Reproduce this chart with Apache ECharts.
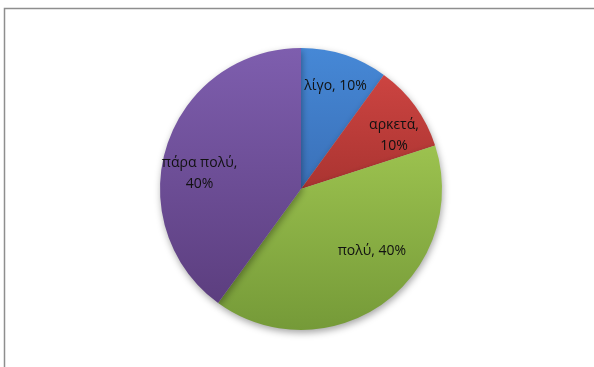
<!DOCTYPE html>
<html>
<head>
<meta charset="utf-8">
<script src="https://cdn.jsdelivr.net/npm/echarts@6/dist/echarts.min.js"></script>
<style>
  html, body { margin: 0; padding: 0; background: #fff; }
  #chart { width: 594px; height: 367px; }
</style>
</head>
<body>
<div id="chart"></div>
<script>
// Answer categories and their shares (%)
const categories = ['λίγο', 'αρκετά', 'πολύ', 'πάρα πολύ'];
const shares = [10, 10, 40, 40];
// Labels that wrap onto a second line
const wrapped = [false, true, false, true];

// Slice fills: lighter at the top, darker at the bottom
const fills = [
  ['#4688d6', '#3a70b8'],
  ['#cc4441', '#aa3431'],
  ['#9cc24f', '#759a38'],
  ['#7e5eae', '#5c3e7f']
];

function grad(c) {
  return {
    type: 'linear', x: 0, y: 0, x2: 0, y2: 1,
    colorStops: [{ offset: 0, color: c[0] }, { offset: 1, color: c[1] }]
  };
}

// Fine nudges for label placement inside the slices
const labelNudge = [[1, 0], [5, 10], [7, -26], [2, 18]];

const center = [301, 189];
const R = 141;

const pieData = categories.map((name, i) => ({
  name, value: shares[i],
  itemStyle: { color: grad(fills[i]) }
}));

const labelData = categories.map((name, i) => ({
  name, value: shares[i],
  label: {
    formatter: name + ',' + (wrapped[i] ? '\n' : ' ') + shares[i] + '%'
  }
}));

const chart = echarts.init(document.getElementById('chart'), null, { renderer: 'canvas' });
chart.setOption({
  animation: false,
  backgroundColor: '#ffffff',
  graphic: [{
    type: 'rect',
    shape: { x: 4.5, y: 8.5, width: 620, height: 400 },
    style: { fill: 'none', stroke: '#8e8e8e', lineWidth: 1.5 },
    silent: true
  }],
  series: [
    {
      type: 'pie',
      center: center,
      radius: [0, R],
      startAngle: 90,
      clockwise: true,
      data: pieData,
      label: { show: false },
      labelLine: { show: false },
      itemStyle: {
        borderWidth: 0,
        shadowBlur: 7,
        shadowOffsetX: 1,
        shadowOffsetY: 3,
        shadowColor: 'rgba(0,0,0,0.35)'
      },
      emphasis: { disabled: true },
      silent: true
    },
    {
      type: 'pie',
      center: center,
      radius: [R * 0.5, R],
      startAngle: 90,
      clockwise: true,
      data: labelData,
      itemStyle: { color: 'rgba(0,0,0,0)' },
      label: {
        show: true,
        position: 'inside',
        color: '#111111',
        fontFamily: 'Open Sans, DejaVu Sans, sans-serif',
        fontSize: 14,
        lineHeight: 21,
        align: 'center'
      },
      labelLine: { show: false },
      labelLayout: function (p) {
        const n = labelNudge[p.dataIndex];
        return { dx: n[0], dy: n[1] };
      },
      emphasis: { disabled: true },
      silent: true,
      z: 3
    }
  ]
});
</script>
</body>
</html>
